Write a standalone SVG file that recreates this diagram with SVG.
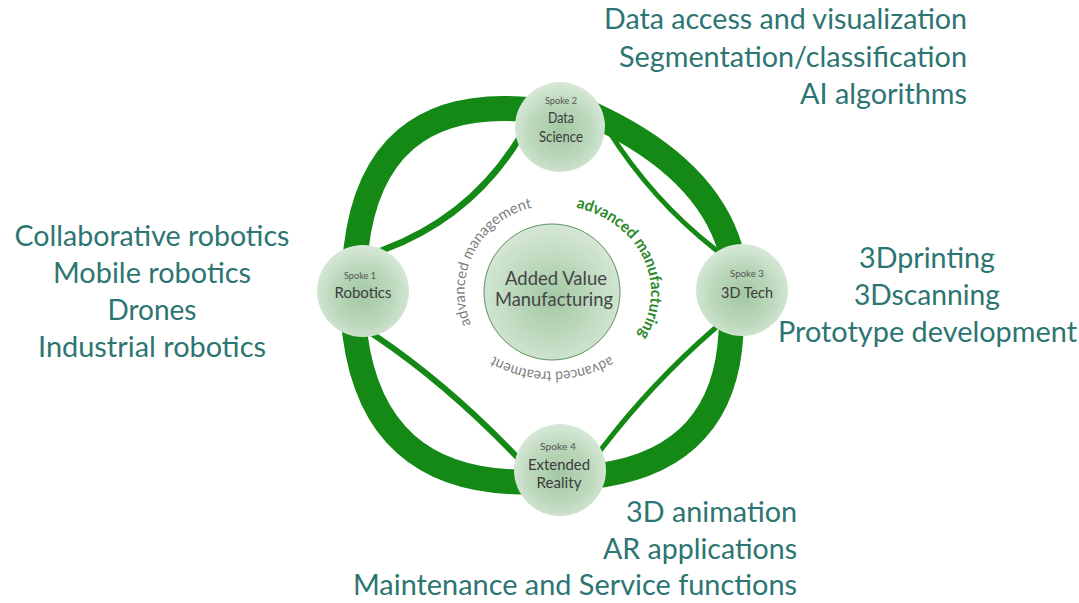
<svg xmlns="http://www.w3.org/2000/svg" width="1079" height="603" viewBox="0 0 1079 603">
<defs>
<style>
.big{font-family:Lato,"Liberation Sans",sans-serif;font-size:28px;fill:#2d7572}
.band{fill:none;stroke:#158915;stroke-width:25;stroke-linejoin:round}
.thin{fill:none;stroke:#158915;stroke-linejoin:round}
.sp{fill:url(#gs)}
.lab{font-family:Lato,"Liberation Sans",sans-serif;text-anchor:middle}
.sm{font-size:10px;fill:#555}
.nm{font-size:15px;fill:#3c3c3c}
.arc{font-family:Lato,"Liberation Sans",sans-serif;font-size:15px;fill:#808080}
.arcg{font-family:Lato,"Liberation Sans",sans-serif;font-size:16px;font-weight:bold;fill:#2a8a2a}
</style>
<radialGradient id="gs" cx="50%" cy="55%" r="55%">
<stop offset="0" stop-color="#a3c8a3"/>
<stop offset="0.6" stop-color="#bcd8bc"/>
<stop offset="1" stop-color="#d8e9d8"/>
</radialGradient>
<radialGradient id="gc" cx="50%" cy="55%" r="55%">
<stop offset="0" stop-color="#a3c8a3"/>
<stop offset="1" stop-color="#d6e8d6"/>
</radialGradient>
<path id="pm" d="M485.4,347.9 A86,86 0 0 1 559.6,206.3"/>
<path id="pf" d="M552,205 A99,87 0 0 1 622,353.5"/>
<path id="pt" d="M645,319 A99,80 0 0 1 459,319"/>
</defs>
<rect width="1079" height="603" fill="#ffffff"/>

<g id="connectors">
<path class="band" d="M354.3,263.9 L356,249 Q373,100 520,109 L535,110"/>
<path class="band" d="M586.5,111.5 L600,118 Q706,169 730,248 L734.4,262.4"/>
<path class="band" d="M353,320 L355,335 Q374,480 520,482 L535,482.2"/>
<path class="band" d="M731.8,318 L731,333 Q724.6,456 603,475 L588.2,477.3"/>
<path class="thin" stroke-width="6.5" d="M373.6,253.5 L383,250 Q469,218 517,142 L522.3,133.5"/>
<path class="thin" stroke-width="5" d="M600.5,118.1 L608,130 Q652,200 716,250 L725.5,257.4"/>
<path class="thin" stroke-width="6" d="M368.7,331.4 L377,337 Q448,385 517,457 L523.9,464.2"/>
<path class="thin" stroke-width="5" d="M722,322.1 L713,330 Q652.2,383 603,447 L595.7,456.5"/>
</g>

<g id="spoke1">
<circle class="sp" cx="363" cy="291" r="46"/>
<text class="lab sm" x="360" y="279" textLength="32" lengthAdjust="spacingAndGlyphs">Spoke 1</text>
<text class="lab nm" x="363" y="298" textLength="57" lengthAdjust="spacingAndGlyphs">Robotics</text>
</g>
<g id="spoke2">
<circle class="sp" cx="560" cy="127" r="45"/>
<text class="lab sm" x="561" y="104" textLength="32" lengthAdjust="spacingAndGlyphs">Spoke 2</text>
<text class="lab nm" x="561" y="123" textLength="26" lengthAdjust="spacingAndGlyphs">Data</text>
<text class="lab nm" x="561" y="142" textLength="44" lengthAdjust="spacingAndGlyphs">Science</text>
</g>
<g id="spoke3">
<circle class="sp" cx="742" cy="290" r="46"/>
<text class="lab sm" x="747" y="277" textLength="34" lengthAdjust="spacingAndGlyphs">Spoke 3</text>
<text class="lab nm" x="747" y="298" textLength="52" lengthAdjust="spacingAndGlyphs">3D Tech</text>
</g>
<g id="spoke4">
<circle class="sp" cx="560" cy="470" r="46"/>
<text class="lab sm" x="558" y="450" textLength="36" lengthAdjust="spacingAndGlyphs">Spoke 4</text>
<text class="lab nm" x="559" y="470" textLength="62" lengthAdjust="spacingAndGlyphs">Extended</text>
<text class="lab nm" x="559" y="488" textLength="45" lengthAdjust="spacingAndGlyphs">Reality</text>
</g>

<g id="hub">
<circle cx="552" cy="292" r="68" fill="url(#gc)" stroke="#5f8f5f" stroke-width="1"/>
<text class="lab" font-size="19" fill="#444" x="556" y="285" textLength="102" lengthAdjust="spacingAndGlyphs">Added Value</text>
<text class="lab" font-size="19" fill="#444" x="554" y="306" textLength="118" lengthAdjust="spacingAndGlyphs">Manufacturing</text>
</g>

<g id="arc-labels">
<text class="arc"><textPath href="#pm" startOffset="50%" text-anchor="middle" textLength="150" lengthAdjust="spacingAndGlyphs">advanced management</textPath></text>
<text class="arcg"><textPath href="#pf" startOffset="50%" text-anchor="middle" textLength="168" lengthAdjust="spacingAndGlyphs">advanced manufacturing</textPath></text>
<text class="arc"><textPath href="#pt" startOffset="50%" text-anchor="middle" textLength="122" lengthAdjust="spacingAndGlyphs">advanced treatment</textPath></text>
</g>

<g id="list-data" text-anchor="end">
<text class="big" x="967" y="29" textLength="363" lengthAdjust="spacingAndGlyphs">Data access and visualization</text>
<text class="big" x="967" y="67" textLength="348" lengthAdjust="spacingAndGlyphs">Segmentation/classification</text>
<text class="big" x="967" y="104" textLength="167" lengthAdjust="spacingAndGlyphs">AI algorithms</text>
</g>
<g id="list-robotics" text-anchor="middle">
<text class="big" x="152" y="246" textLength="275" lengthAdjust="spacingAndGlyphs">Collaborative robotics</text>
<text class="big" x="152" y="283" textLength="198" lengthAdjust="spacingAndGlyphs">Mobile robotics</text>
<text class="big" x="152" y="320" textLength="89" lengthAdjust="spacingAndGlyphs">Drones</text>
<text class="big" x="152" y="357" textLength="228" lengthAdjust="spacingAndGlyphs">Industrial robotics</text>
</g>
<g id="list-3d" text-anchor="middle">
<text class="big" x="927" y="268" textLength="136" lengthAdjust="spacingAndGlyphs">3Dprinting</text>
<text class="big" x="927" y="305" textLength="146" lengthAdjust="spacingAndGlyphs">3Dscanning</text>
<text class="big" x="927.5" y="342" textLength="299" lengthAdjust="spacingAndGlyphs">Prototype development</text>
</g>
<g id="list-xr" text-anchor="end">
<text class="big" x="797" y="522" textLength="171" lengthAdjust="spacingAndGlyphs">3D animation</text>
<text class="big" x="797" y="559" textLength="194" lengthAdjust="spacingAndGlyphs">AR applications</text>
<text class="big" x="797" y="595" textLength="444" lengthAdjust="spacingAndGlyphs">Maintenance and Service functions</text>
</g>
</svg>
